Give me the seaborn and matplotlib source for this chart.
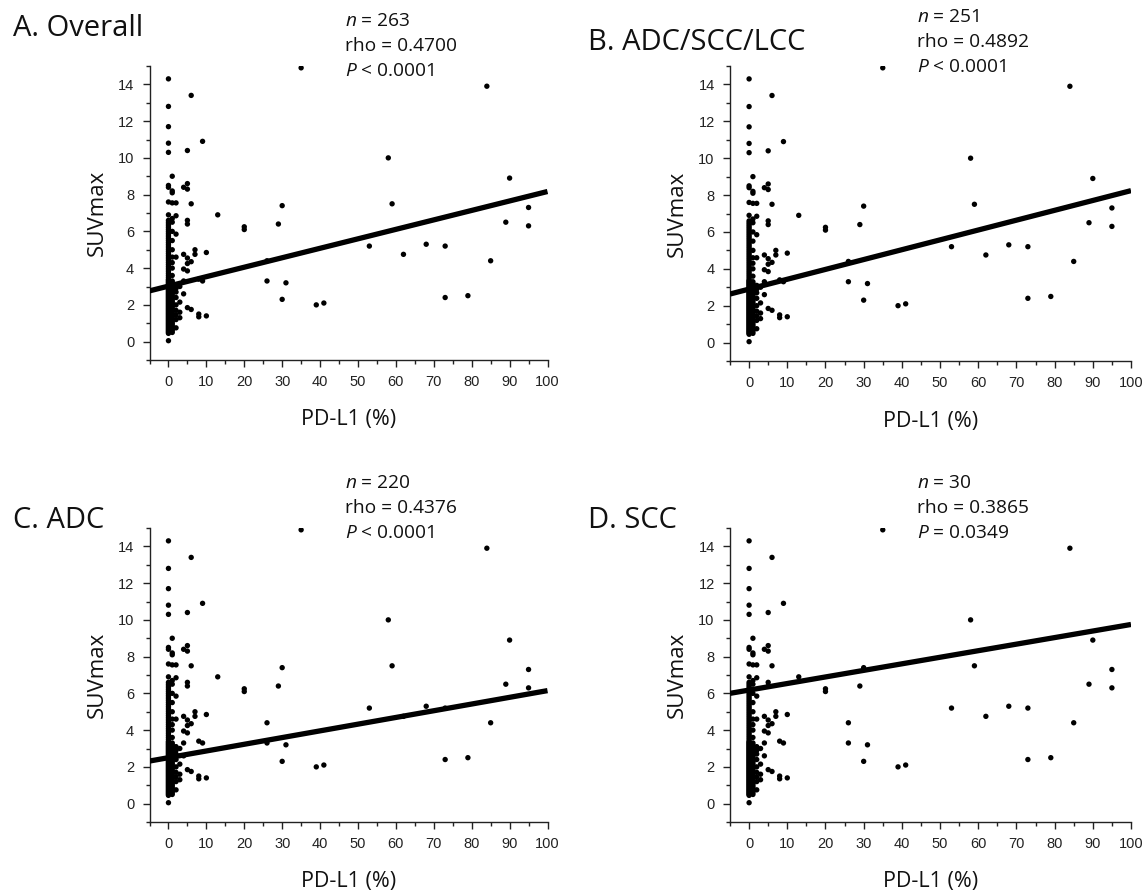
import numpy as np
import pandas as pd
import matplotlib
matplotlib.use("Agg")
import matplotlib.pyplot as plt
import seaborn as sns
from matplotlib.ticker import MultipleLocator

# ---------------- data ----------------
panel_titles = ["A. Overall", "B. ADC/SCC/LCC", "C. ADC", "D. SCC"]
panel_n = ["263", "251", "220", "30"]
panel_rho = ["0.4700", "0.4892", "0.4376", "0.3865"]
panel_p = ["< 0.0001", "< 0.0001", "< 0.0001", "= 0.0349"]
# fitted regression lines (intercept, slope)
line_intercept = [3.02, 2.90, 2.50, 6.18]
line_slope = [0.0515, 0.0534, 0.0365, 0.0357]

# scattered points (PD-L1 %, SUVmax)
far_pdl1 = [35, 84, 58, 90, 30, 59, 95, 20, 20, 29, 89, 95, 53, 62, 68, 73, 85, 26, 26, 31, 30, 39, 41, 73, 79, 13]
far_suv = [14.9, 13.9, 10.0, 8.9, 7.4, 7.5, 7.3, 6.25, 6.1, 6.4, 6.5, 6.3, 5.2, 4.75, 5.3, 5.2, 4.4, 4.4, 3.3, 3.2, 2.3, 2.0, 2.1, 2.4, 2.5, 6.9]

near_pdl1 = [6, 9, 5, 5, 4, 5, 6, 5, 5, 4, 7, 7, 10, 5, 6, 5, 4, 5, 4, 8, 9, 3, 5, 6, 3, 8, 8, 10, 3, 4, 3]
near_suv = [13.4, 10.9, 10.4, 8.6, 8.4, 8.3, 7.5, 6.6, 6.4, 4.75, 5.0, 4.75, 4.85, 4.55, 4.35, 4.25, 3.95, 3.85, 3.3, 3.4, 3.3, 2.15, 1.85, 1.75, 1.6, 1.5, 1.35, 1.4, 3.0, 2.6, 1.3]

col0_suv = [0.05, 0.45, 0.5, 0.55, 0.6, 0.65, 0.7, 0.75, 0.8, 0.85, 0.9, 0.95, 1.0, 1.05, 1.1, 1.15,
            1.2, 1.25, 1.3, 1.35, 1.4, 1.45, 1.5, 1.55, 1.6, 1.65, 1.7, 1.75, 1.8, 1.85, 1.9, 1.95,
            2.0, 2.05, 2.1, 2.15, 2.2, 2.25, 2.3, 2.35, 2.4, 2.45, 2.5, 2.55, 2.6, 2.65, 2.7, 2.75,
            2.8, 2.85, 2.9, 2.95, 3.0, 3.05, 3.1, 3.15, 3.2, 3.25, 3.3, 3.35, 3.4, 3.5, 3.6, 3.7,
            3.8, 3.9, 4.0, 4.1, 4.2, 4.3, 4.4, 4.5, 4.6, 4.7, 4.8, 4.9, 5.0, 5.1, 5.2, 5.3, 5.4,
            5.5, 5.6, 5.7, 5.8, 5.9, 6.0, 6.1, 6.2, 6.3, 6.4, 6.5, 6.6, 6.9, 7.6, 8.4, 8.5,
            10.3, 10.8, 11.7, 12.8, 14.3]
col1_suv = [0.5, 0.6, 0.7, 0.8, 0.9, 1.0, 1.1, 1.2, 1.3, 1.4, 1.5, 1.6, 1.7, 1.8, 1.9, 2.0,
            2.1, 2.2, 2.3, 2.4, 2.5, 2.6, 2.7, 2.8, 2.9, 3.0, 3.1, 3.2, 3.3, 3.6, 4.0, 4.3,
            4.6, 5.0, 5.5, 6.0, 6.5, 6.7, 7.55, 8.1, 8.2, 9.0]
col2_suv = [0.75, 1.2, 1.45, 1.7, 2.0, 2.4, 2.7, 2.9, 3.1, 4.6, 5.85, 6.85, 7.55]

pdl1 = far_pdl1 + near_pdl1 + [0] * len(col0_suv) + [1] * len(col1_suv) + [2] * len(col2_suv)
suvmax = far_suv + near_suv + col0_suv + col1_suv + col2_suv
df = pd.DataFrame({"PD-L1": pdl1, "SUVmax": suvmax})

# ---------------- style ----------------
sns.set_theme(style="ticks")
plt.rcParams["font.family"] = ["Open Sans", "DejaVu Sans"]
plt.rcParams["mathtext.fontset"] = "custom"
plt.rcParams["mathtext.it"] = "Open Sans:italic"
plt.rcParams["mathtext.rm"] = "Open Sans"

W, H = 1144, 893
fig = plt.figure(figsize=(W / 100, H / 100), dpi=100)
fig.patch.set_facecolor("white")

# axes boxes in pixels: left, top, right, bottom
boxes = [(149.5, 66, 547.5, 360), (730, 66, 1131, 361),
         (149.5, 528, 547.5, 822), (730, 528, 1131, 822)]
title_pos = [(13, 29), (588, 42), (13, 520), (588, 520)]
stats_pos = [(345, 21), (917, 17), (345, 483), (917, 483)]
ylabel_x = [97, 677, 97, 677]

tick_col = "#222222"
for i in range(4):
    l, t, r, b = boxes[i]
    ax = fig.add_axes([l / W, 1 - b / H, (r - l) / W, (b - t) / H])
    sns.scatterplot(data=df, x="PD-L1", y="SUVmax", ax=ax, color="black",
                    s=15, linewidth=0, edgecolor="none", legend=False, zorder=3)
    xs = np.array([-5.0, 100.0])
    line_df = pd.DataFrame({"x": xs, "y": line_intercept[i] + line_slope[i] * xs})
    sns.lineplot(data=line_df, x="x", y="y", ax=ax, color="black", linewidth=3.8,
                 solid_capstyle="butt", zorder=4)
    ax.set_xlim(-5, 100)
    ax.set_ylim(-1, 15)
    ax.xaxis.set_major_locator(MultipleLocator(10))
    ax.xaxis.set_minor_locator(MultipleLocator(5))
    ax.yaxis.set_minor_locator(MultipleLocator(1))
    ax.set_yticks(np.arange(0, 15, 2))
    ax.tick_params(which="major", length=5, width=1, color=tick_col, labelsize=10.5,
                   labelcolor=tick_col)
    ax.tick_params(axis="x", which="major", pad=6)
    ax.tick_params(axis="y", which="major", pad=6)
    ax.tick_params(which="minor", length=3, width=1, color=tick_col)
    for lab in ax.get_xticklabels() + ax.get_yticklabels():
        lab.set_family(["Liberation Sans", "DejaVu Sans"])
    for s in ["top", "right"]:
        ax.spines[s].set_visible(False)
    for s in ["left", "bottom"]:
        ax.spines[s].set_color(tick_col)
        ax.spines[s].set_linewidth(1)
    ax.set_xlabel("")
    ax.set_ylabel("")
    ax.patch.set_alpha(0)

    cx = (l + r) / 2
    fig.text(cx / W, 1 - (b + 60) / H, "PD-L1 (%)", ha="center", va="center", fontsize=15.5, color="#111111")
    fig.text(ylabel_x[i] / W, 1 - ((t + b) / 2) / H, "SUVmax", ha="center", va="center",
             rotation=90, fontsize=16, color="#111111")
    tx, ty = title_pos[i]
    fig.text(tx / W, 1 - ty / H, panel_titles[i], ha="left", va="center", fontsize=21, color="#111111")
    sx, sy = stats_pos[i]
    lines = [f"$n$ = {panel_n[i]}", f"rho = {panel_rho[i]}", f"$P$ {panel_p[i]}"]
    for k, txt in enumerate(lines):
        fig.text(sx / W, 1 - (sy + 25 * k) / H, txt, ha="left", va="center", fontsize=13.8, color="#111111")

fig.savefig("out.png", dpi=100, facecolor="white")
